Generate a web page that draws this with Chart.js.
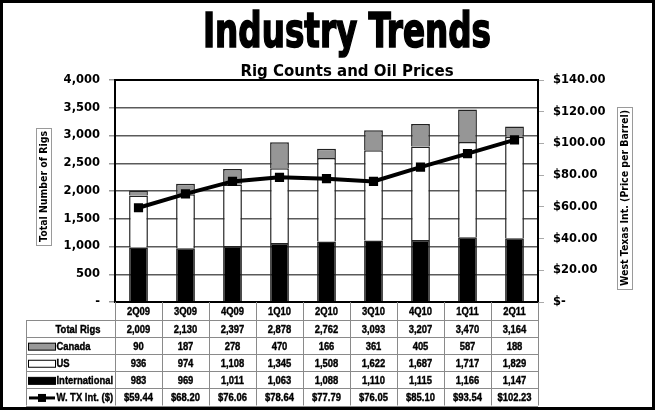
<!DOCTYPE html>
<html>
<head>
<meta charset="utf-8">
<script src="https://cdn.jsdelivr.net/npm/chart.js@4"></script>
<style>
  html, body { margin: 0; padding: 0; background: #fff; }
  #wrap { width: 655px; height: 410px; position: relative; }
</style>
</head>
<body>
<div id="wrap"><canvas id="rigChart" width="655" height="410"></canvas></div>
<script>
const quarters = ['2Q09', '3Q09', '4Q09', '1Q10', '2Q10', '3Q10', '4Q10', '1Q11', '2Q11'];
const totalRigs = [2009, 2130, 2397, 2878, 2762, 3093, 3207, 3470, 3164];
const canada = [90, 187, 278, 470, 166, 361, 405, 587, 188];
const us = [936, 974, 1108, 1345, 1508, 1622, 1687, 1717, 1829];
const international = [983, 969, 1011, 1063, 1088, 1110, 1115, 1166, 1147];
const wtiPrice = [59.44, 68.20, 76.06, 78.64, 77.79, 76.05, 85.10, 93.54, 102.23];
const rigTicks = [0, 500, 1000, 1500, 2000, 2500, 3000, 3500, 4000];
const priceTicks = [0, 20, 40, 60, 80, 100, 120, 140];

const tickFont = { family: '"DejaVu Sans", Verdana, sans-serif', size: 11.5, weight: 'bold' };

function fmtRigs(v) { return v === 0 ? '-' : v.toLocaleString('en-US'); }
function fmtPrice(v) { return v === 0 ? '$-' : '$' + v.toFixed(2); }

// Arial Narrow look: Liberation Sans Bold squeezed horizontally
function narrowText(ctx, text, x, y, align) {
  ctx.save();
  ctx.font = 'bold 11.5px "Liberation Sans", Arial, sans-serif';
  ctx.textAlign = align;
  ctx.textBaseline = 'middle';
  ctx.translate(x, y);
  ctx.scale(0.82, 1);
  ctx.fillText(text, 0, 0);
  ctx.strokeStyle = ctx.fillStyle;
  ctx.lineWidth = 0.4;
  ctx.strokeText(text, 0, 0);
  ctx.restore();
}

function vText(ctx, text, cx, cy, w, h, fontSize) {
  ctx.save();
  ctx.strokeStyle = '#9a9a9a';
  ctx.lineWidth = 1;
  ctx.strokeRect(Math.round(cx - w / 2) + 0.5, Math.round(cy - h / 2) + 0.5, w, h);
  ctx.translate(cx, cy);
  ctx.rotate(-Math.PI / 2);
  ctx.fillStyle = '#000';
  ctx.font = 'bold ' + fontSize + 'px "DejaVu Sans", Verdana, sans-serif';
  ctx.textAlign = 'center';
  ctx.textBaseline = 'middle';
  ctx.fillText(text, 0, 1, h - 6);
  ctx.restore();
}

const decor = {
  id: 'decor',
  beforeDraw(chart) {
    const ctx = chart.ctx;
    ctx.save();
    ctx.fillStyle = '#fff';
    ctx.fillRect(0, 0, chart.width, chart.height);
    ctx.restore();
  },
  afterDraw(chart) {
    const { ctx, chartArea: a, scales: { x } } = chart;
    ctx.save();

    // plot frame
    ctx.strokeStyle = '#000';
    ctx.lineWidth = 2;
    ctx.strokeRect(a.left, a.top, a.right - a.left, a.bottom - a.top);

    // main title, squeezed like Impact
    ctx.fillStyle = '#000';
    ctx.font = 'bold 48px "DejaVu Sans Condensed", "DejaVu Sans", sans-serif';
    ctx.textAlign = 'left';
    ctx.textBaseline = 'alphabetic';
    const t = 'Industry Trends';
    const tw = ctx.measureText(t).width;
    ctx.save();
    ctx.translate(203, 47);
    ctx.scale(288 / tw, 1);
    ctx.fillText(t, 0, 0);
    ctx.strokeStyle = '#000';
    ctx.lineWidth = 1.6;
    ctx.strokeText(t, 0, 0);
    ctx.restore();

    // subtitle
    ctx.font = 'bold 15px "DejaVu Sans", Verdana, sans-serif';
    ctx.textAlign = 'center';
    ctx.fillText('Rig Counts and Oil Prices', 347, 76, 221);

    // axis titles
    vText(ctx, 'Total Number of Rigs', 43.5, 186.5, 15, 117, 10);
    vText(ctx, 'West Texas Int. (Price per Barrel)', 624.5, 198, 15, 182, 10);

    // data table
    const n = quarters.length;
    const colW = (a.right - a.left) / n;
    const tblLeft = 26, rowTop = 320, rowH = 17.1;
    const rows = [
      { label: 'Total Rigs', values: totalRigs.map(fmtRigs) },
      { label: 'Canada', key: 'canada', values: canada.map(fmtRigs) },
      { label: 'US', key: 'us', values: us.map(fmtRigs) },
      { label: 'International', key: 'intl', values: international.map(fmtRigs) },
      { label: 'W. TX Int. ($)', key: 'wti', values: wtiPrice.map(v => '$' + v.toFixed(2)) }
    ];
    const tblBottom = rowTop + rows.length * rowH;

    ctx.strokeStyle = '#8a8a8a';
    ctx.lineWidth = 1;
    ctx.beginPath();
    for (let i = 0; i <= rows.length; i++) {
      const y = Math.round(rowTop + i * rowH) + 0.5;
      ctx.moveTo(tblLeft, y);
      ctx.lineTo(a.right, y);
    }
    for (let i = 0; i <= n; i++) {
      const xx = Math.round(a.left + i * colW) + 0.5;
      ctx.moveTo(xx, a.bottom);
      ctx.lineTo(xx, tblBottom);
    }
    ctx.moveTo(tblLeft + 0.5, rowTop);
    ctx.lineTo(tblLeft + 0.5, tblBottom);
    ctx.stroke();

    ctx.fillStyle = '#000';
    quarters.forEach((q, i) => narrowText(ctx, q, x.getPixelForValue(i), (a.bottom + rowTop) / 2 + 1, 'center'));

    rows.forEach((r, ri) => {
      const cy = rowTop + ri * rowH + rowH / 2 + 1;
      ctx.fillStyle = '#000';
      r.values.forEach((v, i) => narrowText(ctx, v, x.getPixelForValue(i), cy, 'center'));
      if (!r.key) {
        narrowText(ctx, r.label, 78, cy, 'center');
        return;
      }
      // legend key
      ctx.lineWidth = 1;
      ctx.strokeStyle = '#000';
      if (r.key === 'wti') {
        ctx.beginPath();
        ctx.lineWidth = 3;
        ctx.moveTo(29, cy);
        ctx.lineTo(55, cy);
        ctx.stroke();
        ctx.fillRect(38, cy - 4, 8, 8);
      } else {
        ctx.fillStyle = r.key === 'canada' ? '#999999' : (r.key === 'us' ? '#ffffff' : '#000000');
        ctx.fillRect(28.5, cy - 3.5, 27, 7);
        ctx.strokeRect(28.5, cy - 3.5, 27, 7);
      }
      ctx.fillStyle = '#000';
      narrowText(ctx, r.label, 56.5, cy, 'left');
    });

    // outer border
    ctx.strokeStyle = '#000';
    ctx.lineWidth = 3;
    ctx.strokeRect(1.5, 1.5, chart.width - 3, chart.height - 3);
    ctx.restore();
  }
};

const barBase = { yAxisID: 'y', borderColor: '#222', borderWidth: 1.5, barPercentage: 0.4, categoryPercentage: 1, order: 1 };

new Chart(document.getElementById('rigChart'), {
  data: {
    labels: quarters,
    datasets: [
      { ...barBase, type: 'bar', label: 'International', data: international, backgroundColor: '#000000' },
      { ...barBase, type: 'bar', label: 'US', data: us, backgroundColor: '#ffffff' },
      { ...barBase, type: 'bar', label: 'Canada', data: canada, backgroundColor: '#969696' },
      {
        type: 'line', label: 'W. TX Int. ($)', data: wtiPrice, yAxisID: 'y1', order: 0,
        borderColor: '#000', borderWidth: 4, backgroundColor: '#000',
        pointStyle: 'rect', pointRadius: 6.5, pointBorderWidth: 0, tension: 0
      }
    ]
  },
  options: {
    responsive: false,
    animation: false,
    devicePixelRatio: 1,
    layout: { padding: { top: 80, bottom: 108, left: 0, right: 0 } },
    plugins: { legend: { display: false }, tooltip: { enabled: false }, title: { display: false } },
    scales: {
      x: { display: false, stacked: true, offset: true },
      y: {
        position: 'left', stacked: true,
        min: rigTicks[0], max: rigTicks[rigTicks.length - 1],
        afterBuildTicks: s => { s.ticks = rigTicks.map(v => ({ value: v })); },
        afterFit: s => { s.width = 115; },
        border: { display: false },
        grid: { color: '#5a5a5a', lineWidth: 1.5, tickLength: 6, tickColor: '#999' },
        ticks: { color: '#000', font: tickFont, padding: 9, callback: v => fmtRigs(v) }
      },
      y1: {
        position: 'right',
        min: priceTicks[0], max: priceTicks[priceTicks.length - 1],
        afterBuildTicks: s => { s.ticks = priceTicks.map(v => ({ value: v })); },
        afterFit: s => { s.width = 117; },
        border: { display: false },
        grid: { drawOnChartArea: false, tickLength: 6, tickColor: '#aaa' },
        ticks: { color: '#000', font: tickFont, padding: 9, callback: v => fmtPrice(v) }
      }
    }
  },
  plugins: [decor]
});
</script>
</body>
</html>
